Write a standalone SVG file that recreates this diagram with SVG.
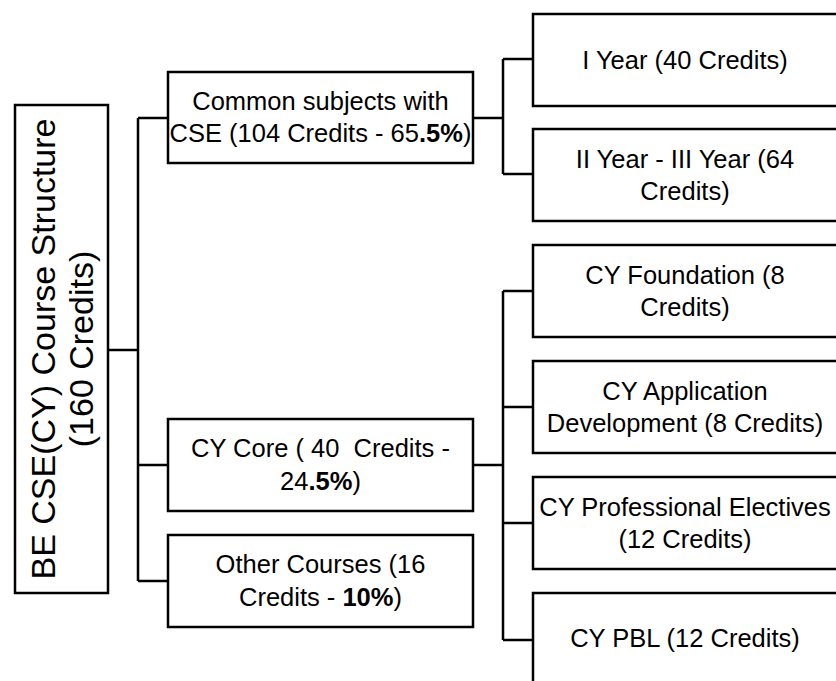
<svg xmlns="http://www.w3.org/2000/svg" width="836" height="681" viewBox="0 0 836 681">
<style>
.box{fill:#fff;stroke:#000;stroke-width:2.5}
.con{fill:none;stroke:#000;stroke-width:2.5}
text{font-family:"Liberation Sans",Arial,sans-serif;font-size:25.5px;fill:#000;text-anchor:middle}
.root{font-size:34px}
.b{font-weight:bold}
</style>
<rect width="836" height="681" fill="#fff"/>
<g id="connectors">
<path class="con" d="M108,350H138M138,118V581M138,118H168M138,465H168M138,581H168"/>
<path class="con" d="M473,118H503M503,59V174M503,59H533M503,174H533"/>
<path class="con" d="M473,465H503M503,291V640M503,291H533M503,407H533M503,523H533M503,640H533"/>
</g>
<g id="root">
<rect class="box" x="15" y="105" width="93" height="488"/>
<g transform="translate(61,349) rotate(-90)">
<text class="root" x="0" y="-6">BE CSE(CY) Course Structure</text>
<text class="root" x="0" y="32">(160 Credits)</text>
</g>
</g>
<g id="common">
<rect class="box" x="168" y="72" width="305" height="91"/>
<text x="320.5" y="110">Common subjects with</text>
<text x="320.5" y="142">CSE (104 Credits - 65<tspan class="b">.5%</tspan>)</text>
</g>
<g id="core">
<rect class="box" x="168" y="419" width="305" height="92"/>
<text x="320.5" y="457" xml:space="preserve">CY Core ( 40  Credits -</text>
<text x="320.5" y="490">24<tspan class="b">.5%</tspan>)</text>
</g>
<g id="other">
<rect class="box" x="168" y="535" width="305" height="92"/>
<text x="320.5" y="573">Other Courses (16</text>
<text x="320.5" y="606">Credits - <tspan class="b">10%</tspan>)</text>
</g>
<g id="year1">
<rect class="box" x="533" y="14" width="310" height="92"/>
<text x="685" y="69">I Year (40 Credits)</text>
</g>
<g id="year23">
<rect class="box" x="533" y="129" width="310" height="92"/>
<text x="685" y="168">II Year - III Year (64</text>
<text x="685" y="200">Credits)</text>
</g>
<g id="foundation">
<rect class="box" x="533" y="245" width="310" height="92"/>
<text x="685" y="284">CY Foundation (8</text>
<text x="685" y="316">Credits)</text>
</g>
<g id="appdev">
<rect class="box" x="533" y="361" width="310" height="92"/>
<text x="685" y="400">CY Application</text>
<text x="685" y="432">Development (8 Credits)</text>
</g>
<g id="electives">
<rect class="box" x="533" y="477" width="310" height="92"/>
<text x="685" y="516">CY Professional Electives</text>
<text x="685" y="548">(12 Credits)</text>
</g>
<g id="pbl">
<rect class="box" x="533" y="593" width="310" height="100"/>
<text x="685" y="647">CY PBL (12 Credits)</text>
</g>
</svg>
